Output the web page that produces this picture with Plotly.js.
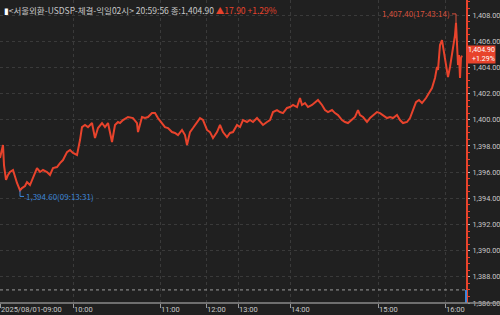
<!DOCTYPE html>
<html>
<head>
<meta charset="utf-8">
<script src="https://cdn.plot.ly/plotly-3.0.1.min.js"></script>
<style>
html,body{margin:0;padding:0;background:#202020;}
#chart{width:500px;height:315px;}
</style>
</head>
<body>
<div id="chart"></div>
<script>
// tick sequence position of each sample (tick-count based time axis)
var seq = [0,2,3,4,6,8,10,13,15,17,20,22,25,27,30,33,37,40,43,47,50,53,57,60,63,67,70,73,77,80,82,85,88,92,95,98,102,105,108,112,115,118,120,123,128,133,137,138,142,145,148,152,155,158,162,165,168,172,175,178,182,185,187,190,193,197,200,203,207,210,213,217,220,223,227,230,233,237,240,243,247,250,253,257,260,263,267,270,273,277,280,283,287,290,293,297,300,302,305,308,312,315,318,322,325,328,332,335,338,342,345,348,352,355,358,360,363,367,370,373,377,380,383,387,390,393,397,400,403,407,410,413,416,419,422,426,429,432,435,437,438,440,442,443,445,447,448,450,452,453,455,456,457,458,459,460,461,462];
// USD/KRW price
var price = [1397.08,1397.69,1398.07,1396.54,1395.40,1395.78,1396.01,1396.16,1395.55,1395.17,1394.60,1394.78,1394.94,1395.24,1395.01,1395.55,1396.31,1396.01,1396.16,1396.01,1395.78,1396.31,1396.39,1396.69,1396.92,1397.53,1397.69,1397.46,1397.31,1398.45,1399.44,1399.60,1399.44,1399.75,1398.60,1399.37,1399.75,1399.44,1399.75,1398.30,1399.60,1399.83,1399.75,1399.98,1400.21,1400.13,1399.75,1399.06,1400.21,1400.13,1400.21,1400.51,1400.51,1400.13,1399.75,1399.44,1399.37,1399.06,1398.99,1398.83,1399.22,1398.83,1398.07,1399.06,1399.37,1399.83,1400.13,1399.98,1399.22,1399.06,1398.60,1399.06,1399.60,1399.06,1398.68,1398.99,1399.06,1399.60,1399.44,1399.98,1399.83,1399.98,1399.83,1400.13,1399.83,1399.60,1399.83,1399.98,1400.59,1400.74,1400.59,1400.51,1400.90,1400.97,1401.13,1400.97,1401.66,1401.13,1401.28,1400.97,1401.13,1401.35,1401.51,1401.13,1400.74,1400.59,1400.74,1400.51,1400.36,1399.98,1399.83,1399.75,1399.98,1400.21,1400.74,1400.36,1400.21,1399.83,1400.13,1400.36,1400.59,1400.51,1400.36,1400.13,1400.21,1400.13,1400.36,1399.98,1399.75,1399.83,1400.13,1400.74,1401.35,1401.51,1401.28,1401.66,1402.04,1402.42,1403.19,1404.03,1403.80,1405.71,1406.09,1405.56,1404.72,1403.57,1403.26,1404.03,1404.94,1405.48,1406.47,1407.40,1405.17,1404.18,1404.94,1403.19,1404.72,1404.90];
var prevClose = 1387.00;
var xTickSeq = [0,73,160,206,238,290,378,445];
var xTickText = ["2025/08/01-09:00","10:00","11:00","12:00","13:00","14:00","15:00","16:00"];
var yTickVals = [1386,1388,1390,1392,1394,1396,1398,1400,1402,1404,1406,1408];
var maxTime = "17:43:14";
var minTime = "09:13:31";
var lastTime = "20:59:56";
var titleName = "<서울외환-USDSP-체결-익일02시>";

var RED = "#e8432c", BLUE = "#3d86d8", TXT = "#c8c8c8";
var FONT = "Noto Sans CJK KR, DejaVu Sans, sans-serif";
var NUMFONT = "Roboto, Noto Sans, sans-serif";

var last = price[price.length-1];
var chg = last - prevClose;
var pct = chg / prevClose * 100;
var maxV = Math.max.apply(null, price), minV = Math.min.apply(null, price);
var maxX = seq[price.indexOf(maxV)], minX = seq[price.indexOf(minV)];
function fmt(v){ return v.toLocaleString('en-US',{minimumFractionDigits:2,maximumFractionDigits:2}); }

var trace = {x: seq, y: price, type:'scatter', mode:'lines',
  line:{color:RED, width:2}, hoverinfo:'skip'};

var annotations = [];
annotations.push({xref:'paper', yref:'paper', x:0.004, y:1, xanchor:'left', yanchor:'top', yshift:-2,
  showarrow:false, font:{family:FONT, size:8.5, color:TXT},
  text:'<span style="color:#ffffff">▮</span>'+titleName+' '+lastTime+' 종:'+fmt(last)+' <span style="color:'+RED+'">▲'+fmt(chg)+' +'+pct.toFixed(2)+'%</span>'});
for (var i=0;i<xTickSeq.length;i++){
  annotations.push({xref:'x', yref:'paper', x:xTickSeq[i], y:0, xanchor:'left', yanchor:'bottom', xshift:0, yshift:-12,
    showarrow:false, text:xTickText[i], borderpad:0, font:{family:NUMFONT, size:7.5, color:TXT}});
}
annotations.push({xref:'x', yref:'y', x:maxX, y:maxV, xanchor:'right', yanchor:'middle', xshift:-4, yshift:9,
  showarrow:false, text:fmt(maxV)+'('+maxTime+')', font:{family:FONT, size:8, color:'#d8503c'}});
annotations.push({xref:'x', yref:'y', x:minX, y:minV, xanchor:'left', yanchor:'middle', xshift:4, yshift:-6,
  showarrow:false, text:fmt(minV)+'('+minTime+')', font:{family:FONT, size:8, color:BLUE}});
annotations.push({xref:'paper', yref:'y', x:1, y:last, xanchor:'left', yanchor:'middle', xshift:1, yshift:1,
  showarrow:false, text:fmt(last)+'<br>+'+pct.toFixed(2)+'%', align:'right',
  bgcolor:RED, borderpad:0, font:{family:NUMFONT, size:7, color:'#ffffff'}});

var shapes = [
  {type:'line', xref:'paper', yref:'y', x0:0, x1:1, y0:prevClose, y1:prevClose, line:{color:'#9a9a9a', width:1, dash:'dot'}},
  {type:'line', xref:'paper', yref:'y', x0:1, x1:1, y0:yTickVals[0], y1:prevClose, line:{color:BLUE, width:2}},
  {type:'line', xref:'paper', yref:'paper', x0:0, x1:1.08, y0:0, y1:0, line:{color:'#8a8a8a', width:1.5}},
  {type:'line', xref:'x', yref:'y', xsizemode:'pixel', ysizemode:'pixel', xanchor:maxX, yanchor:maxV, x0:0, x1:0, y0:0, y1:9, line:{color:'#d8503c', width:1}},
  {type:'line', xref:'x', yref:'y', xsizemode:'pixel', ysizemode:'pixel', xanchor:maxX, yanchor:maxV, x0:-4, x1:0, y0:9, y1:9, line:{color:'#d8503c', width:1}},
  {type:'line', xref:'x', yref:'y', xsizemode:'pixel', ysizemode:'pixel', xanchor:minX, yanchor:minV, x0:0, x1:0, y0:0, y1:-6, line:{color:BLUE, width:1}},
  {type:'line', xref:'x', yref:'y', xsizemode:'pixel', ysizemode:'pixel', xanchor:minX, yanchor:minV, x0:0, x1:4, y0:-6, y1:-6, line:{color:BLUE, width:1}}
];

var layout = {
  width:500, height:315,
  paper_bgcolor:'#202020', plot_bgcolor:'#202020',
  margin:{l:0, r:34, t:0, b:12, pad:0},
  showlegend:false,
  font:{family:FONT, color:TXT},
  xaxis:{range:[0,466], tickmode:'array', tickvals:xTickSeq, showticklabels:false,
    ticks:'outside', ticklen:4, tickcolor:'#9a9a9a', showgrid:true, gridcolor:'#3a3a3a', griddash:'dot',
    zeroline:false, showline:false, fixedrange:true},
  yaxis:{side:'right', range:[1386, 1409.15], tickmode:'array', tickvals:yTickVals, tickformat:',.2f',
    ticks:'outside', ticklen:2, tickcolor:'#bbbbbb', tickfont:{family:NUMFONT, size:7.3, color:TXT},
    ticklabelstandoff:1,
    showline:true, linecolor:RED, linewidth:2, showgrid:true, gridcolor:'#3a3a3a', griddash:'dot',
    minor:{dtick:0.5, ticklen:2, tickcolor:RED, showgrid:false},
    zeroline:false, fixedrange:true},
  annotations:annotations,
  shapes:shapes
};
Plotly.newPlot('chart', [trace], layout, {displayModeBar:false, staticPlot:true});
</script>
</body>
</html>
